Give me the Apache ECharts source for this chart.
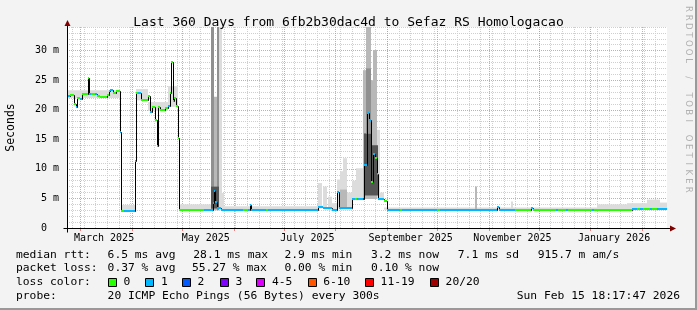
<!DOCTYPE html>
<html><head><meta charset="utf-8">
<script src="https://cdn.jsdelivr.net/npm/echarts@6/dist/echarts.min.js"></script>
<style>html,body{margin:0;padding:0;background:#f3f3f3}#c{width:697px;height:310px}</style>
</head><body><div id="c"></div>
<script>
// ---------------- DATA ----------------
// time axis: days since start of the 360-day window (Feb 20 2025 18:17:47)
const xLabels = ['March 2025', 'May 2025', 'July 2025', 'September 2025', 'November 2025', 'January 2026'];
const xLabelMonths = [2, 4, 6, 8, 10, 12];           // months since Jan 2025
const yTicks = [0, 5, 10, 15, 20, 25, 30];           // ms

// median rtt (ms), step function: value holds from medDay[i] to medDay[i+1]
const medDay = [0.0, 1.8, 4.2, 5.1, 6.0, 7.8, 9.0, 12.3, 13.2, 14.4, 16.8, 18.0, 19.8, 24.0, 24.9, 25.8, 27.6, 29.4, 31.5, 32.4,
  34.2, 40.5, 41.4, 42.6, 44.4, 48.3, 49.5, 50.7, 52.5, 53.7, 54.3, 55.8, 58.8, 60.3, 61.5, 62.4, 63.3, 64.2, 65.1, 66.3,
  67.2, 82.2, 87.6, 88.2, 88.8, 90.0, 92.4, 105.6, 108.6, 109.5, 110.4, 119.4, 120.6, 150.6, 153.6, 159.0, 161.7, 163.2,
  171.0, 172.5, 174.0, 177.3, 178.4, 179.7, 180.9, 182.1, 183.6, 184.8, 185.8, 186.8, 190.2, 191.7, 199.8, 201.0, 222.0,
  223.8, 258.0, 258.9, 268.8, 278.4, 279.6, 293.4, 294.6, 299.4, 300.6, 315.0, 316.2, 339.0, 342.0, 343.8, 345.6, 349.8,
  351.0, 354.0];
const medVal = [22.4, 22.5, 20.9, 20.5, 22.0, 21.8, 22.6, 25.4, 22.7, 22.6, 22.7, 22.4, 22.2, 22.5, 23.1, 23.3, 22.9, 23.1, 16.2, 2.9,
  2.9, 11.4, 22.9, 22.8, 21.6, 22.3, 19.6, 20.5, 18.2, 13.8, 20.4, 20.0, 20.3, 20.6, 22.8, 28.1, 21.4, 22.0, 20.6, 15.2,
  3.0, 3.0, 4.3, 6.2, 4.4, 3.3, 3.0, 3.0, 3.0, 3.9, 3.0, 3.0, 3.0, 3.6, 3.4, 3.0, 6.1, 3.4,
  4.9, 4.9, 4.9, 4.9, 10.7, 19.4, 18.3, 7.8, 12.5, 11.9, 9.2, 4.9, 4.5, 3.05, 3.05, 3.05, 3.05,
  3.05, 3.6, 3.1, 3.1, 3.3, 3.1, 3.1, 3.1, 3.1, 3.1, 3.1, 3.1, 3.15, 3.15, 3.2, 3.2, 3.2,
  3.2, 3.2];
// packet-loss class index (0:"0", 1:"1", ... 6:"11-19", 7:"20/20")
const medLoss = [1, 0, 0, 1, 0, 1, 0, 0, 1, 0, 1, 0, 0, 0, 0, 1, 0, 0, 1, 0,
  1, 1, 0, 1, 0, 0, 1, 0, 0, 0, 0, 0, 0, 1, 0, 0, 0, 0, 0, 0,
  0, 1, 1, 1, 1, 1, 1, 0, 1, 1, 1, 0, 1, 1, 1, 1, 1, 1,
  1, 0, 1, 6, 1, 1, 1, 0, 1, 0, 1, 1, 0, 1, 0, 1, 0,
  1, 1, 1, 0, 1, 0, 1, 0, 1, 0, 1, 0, 1, 0, 1, 0, 1,
  0, 1];

// smoke (ping spread): start day, end day, low ms, high ms, density 1..4
const smokeStart = [0, 32.4, 41.4, 48.3, 60.3, 67.2, 86.4, 88.4, 89.8, 91.2, 86.4, 92.8, 94.4, 150.6, 153.6, 156.6, 159, 162.0, 163.8, 165.6,
  163.8, 168.0, 171.0, 173.4, 177.6, 179.4, 182.4, 183.6, 186.0, 187.8, 178.2, 182.4, 190.2, 245.0, 266.6, 318, 336, 348, 356, 179.4];
const smokeEnd = [31.5, 40.5, 48.3, 60.3, 66.3, 86.4, 88.4, 89.8, 91.2, 92.8, 91.2, 94.4, 150.6, 153.0, 156.0, 159.0, 162, 163.8, 165.6, 168.0,
  168.0, 171.0, 173.4, 177.6, 179.4, 182.4, 183.6, 186.0, 187.8, 190.2, 182.4, 186.6, 360, 245.8, 267.4, 336, 348, 356, 360, 182.4];
const smokeLow = [22.0, 2.9, 21.6, 19.8, 20.5, 3.0, 3.0, 3.0, 3.0, 3.0, 3.3, 3.0, 3.0, 3.3, 3.3, 3.1, 3.0, 3.3, 3.3, 3.3,
  3.3, 3.3, 4.9, 4.9, 4.9, 4.9, 4.9, 4.9, 4.9, 4.8, 5.5, 5.5, 3.1, 3.1, 3.1, 3.1, 3.1, 3.1, 3.1, 16.0];
const smokeHigh = [23.3, 3.9, 23.5, 21.3, 24.0, 4.0, 34, 22.2, 34, 34, 7.0, 5.9, 3.7, 7.6, 7.0, 5.3, 4.2, 8.2, 9.6, 11.8,
  6.5, 6.0, 8.0, 10.1, 26.7, 34, 25.0, 30.1, 16.6, 6.0, 16.0, 14.0, 3.45, 7.0, 4.5, 4.0, 4.2, 4.8, 4.3, 27.0];
const smokeDensity = [1, 1, 1, 1, 1, 1, 3, 2, 3, 1, 4, 1, 1, 1, 1, 1, 1, 1, 1, 1,
  2, 1, 1, 1, 2, 2, 2, 2, 1, 1, 4, 4, 1, 2, 1, 1, 1, 1, 1, 3];

const lossLabels = ['0', '1', '2', '3', '4-5', '6-10', '11-19', '20/20'];
const statsRtt = ['median rtt:', '6.5 ms avg', '28.1 ms max', '2.9 ms min', '3.2 ms now', '7.1 ms sd', '915.7 m am/s'];
const statsLoss = ['packet loss:', '0.37 % avg', '55.27 % max', '0.00 % min', '0.10 % now'];
const probeText = ['probe:', '20 ICMP Echo Pings (56 Bytes) every 300s', 'Sun Feb 15 18:17:47 2026'];
const titleText = 'Last 360 Days from 6fb2b30dac4d to Sefaz RS Homologacao';
const watermark = 'RRDTOOL / TOBI OETIKER';

// ---------------- STYLE / BUILD ----------------
const LOSS_COLORS = ['#26ff00', '#00b8ff', '#0059ff', '#7e00ff', '#dd00ff', '#ff5500', '#ff0000', '#a10000'];
const SHADES = [null, '#dcdcdc', '#b8b8b8', '#909090', '#555555'];
const MONO = '"DejaVu Sans Mono", monospace';
const T0 = Date.UTC(2025, 1, 20, 18, 17, 47), DAY = 86400000, SPAN = 360;
const dayOf = (y, m, d) => (Date.UTC(y, m, d) - T0) / DAY;

const monthDays = [];
for (let m = 2; m <= 13; m++) monthDays.push(dayOf(2025, m, 1));
const weekDays = [];
for (let d = dayOf(2025, 1, 24); d < SPAN; d += 7) weekDays.push(d);
const labelDays = xLabelMonths.map(m => dayOf(2025, m, 15));
const minorY = [];
for (let v = 0; v <= 34; v++) if (v % 5 !== 0) minorY.push(v);

const smokeData = smokeStart.map((s, i) => [s, smokeEnd[i], smokeLow[i], smokeHigh[i], smokeDensity[i]]);
const medData = medDay.map((s, i) => [s, i + 1 < medDay.length ? medDay[i + 1] : SPAN, medVal[i], i > 0 ? medVal[i - 1] : medVal[i], medLoss[i]]);

const chart = echarts.init(document.getElementById('c'), null, {renderer: 'canvas'});

const majorColor = 'rgba(240,120,120,0.75)';
const minorColor = '#cfcfcf';

const option = {
  animation: false,
  backgroundColor: '#f3f3f3',
  title: {text: titleText, left: 'center', top: 11,
    textStyle: {fontFamily: MONO, fontSize: 13, fontWeight: 'normal', color: '#000'}},
  grid: {left: 67, right: 30, top: 27, bottom: 82, show: true, backgroundColor: '#ffffff', borderWidth: 0},
  xAxis: [
    {type: 'value', min: 0, max: SPAN, z: 1,
      axisLine: {show: false},
      axisTick: {show: true, length: 3, customValues: monthDays, lineStyle: {color: '#f08080'}},
      axisLabel: {customValues: labelDays, margin: 5, fontFamily: MONO, fontSize: 10, color: '#000',
        formatter: v => { let bi = 0; labelDays.forEach((d, i) => { if (Math.abs(d - v) < Math.abs(labelDays[bi] - v)) bi = i; }); return xLabels[bi]; }},
      splitLine: {show: true, lineStyle: {color: majorColor, type: [1, 1], width: 1}}},
    {type: 'value', min: 0, max: SPAN, position: 'top', z: 0,
      axisLine: {show: false}, axisTick: {show: false, customValues: weekDays}, axisLabel: {show: false},
      splitLine: {show: true, lineStyle: {color: minorColor, type: [1, 1], width: 1}}}
  ],
  yAxis: [
    {type: 'value', min: 0, max: 34, z: 1,
      axisLine: {show: false},
      axisTick: {show: false, customValues: yTicks},
      axisLabel: {customValues: yTicks, margin: 8, fontFamily: MONO, fontSize: 10, color: '#000',
        formatter: v => v === 0 ? '0  ' : v + ' m'},
      splitLine: {show: true, lineStyle: {color: majorColor, type: [1, 1], width: 1}}},
    {type: 'value', min: 0, max: 34, position: 'right', z: 0,
      axisLine: {show: false}, axisTick: {show: false, customValues: minorY}, axisLabel: {show: false},
      splitLine: {show: true, lineStyle: {color: minorColor, type: [1, 1], width: 1}}}
  ],
  series: [
    {type: 'custom', name: 'smoke', xAxisIndex: 0, yAxisIndex: 0, z: 2, clip: true,
      encode: {x: [0, 1], y: [2, 3]}, data: smokeData,
      renderItem: (params, api) => {
        const a = api.coord([api.value(0), api.value(3)]);
        const b = api.coord([api.value(1), api.value(2)]);
        const x0 = Math.round(a[0]), x1 = Math.max(Math.round(b[0]), x0 + 1);
        return {type: 'rect', shape: {x: x0, y: a[1], width: x1 - x0, height: b[1] - a[1]},
          style: {fill: SHADES[api.value(4)]}};
      }},
    {type: 'custom', name: 'median', xAxisIndex: 0, yAxisIndex: 0, z: 3, clip: true,
      encode: {x: [0, 1], y: [2, 3]}, data: medData,
      renderItem: (params, api) => {
        const s = api.value(0), e = api.value(1), v = api.value(2), pv = api.value(3);
        const p0 = api.coord([s, v]), p1 = api.coord([e, v]), pp = api.coord([s, pv]);
        const x0 = Math.round(p0[0]) + 0.5, x1 = Math.round(p1[0]) + 0.5;
        const y = Math.round(p0[1]) + 0.5, yp = Math.round(pp[1]) + 0.5;
        return {type: 'group', children: [
          {type: 'line', shape: {x1: x0, y1: yp, x2: x0, y2: y}, style: {stroke: '#000', lineWidth: 1}},
          {type: 'line', shape: {x1: x0, y1: y, x2: x1, y2: y}, style: {stroke: '#000', lineWidth: 1}}
        ]};
      }},
    {type: 'custom', name: 'loss', xAxisIndex: 0, yAxisIndex: 0, z: 4, clip: true,
      encode: {x: [0, 1], y: 2}, data: medData,
      renderItem: (params, api) => {
        const s = api.value(0), e = api.value(1), v = api.value(2);
        const p0 = api.coord([s, v]), p1 = api.coord([e, v]);
        const x0 = Math.round(p0[0]), x1 = Math.max(Math.round(p1[0]), x0 + 1);
        const y = Math.round(p0[1]);
        return {type: 'rect', shape: {x: x0, y: y - 1, width: x1 - x0, height: 2},
          style: {fill: LOSS_COLORS[api.value(4)]}};
      }}
  ]
};
chart.setOption(option);

// ---------- decorations: axes with arrows, legend, frame ----------
const o = chart.convertToPixel({gridIndex: 0}, [0, 0]);
const tr = chart.convertToPixel({gridIndex: 0}, [SPAN, 34]);
const ox = Math.round(o[0]) + 0.5, oy = Math.round(o[1]) + 0.5;
const rx = Math.round(tr[0]), ty = Math.round(tr[1]);
const AR = '#800000';
const g = [];
g.push({type: 'line', z: 10, shape: {x1: ox - 4, y1: oy, x2: rx + 4, y2: oy}, style: {stroke: '#000', lineWidth: 1}});
g.push({type: 'line', z: 10, shape: {x1: ox, y1: oy + 4, x2: ox, y2: ty - 2}, style: {stroke: '#000', lineWidth: 1}});
g.push({type: 'polygon', z: 10, shape: {points: [[rx + 3, oy - 3], [rx + 9, oy], [rx + 3, oy + 3]]}, style: {fill: AR}});
g.push({type: 'polygon', z: 10, shape: {points: [[ox - 3, ty - 1], [ox, ty - 7], [ox + 3, ty - 1]]}, style: {fill: AR}});

// "Seconds" vertical label
g.push({type: 'text', x: 11, y: (o[1] + tr[1]) / 2, rotation: Math.PI / 2,
  style: {text: 'Seconds', font: '11.5px ' + MONO, fill: '#000', align: 'center', verticalAlign: 'middle'}});
// watermark, spaced letters reading top to bottom
watermark.split('').forEach((ch, i) => {
  if (ch === ' ') return;
  g.push({type: 'text', x: 688, y: 9 + i * 8.6, rotation: -Math.PI / 2,
    style: {text: ch, font: '8.5px "DejaVu Sans", sans-serif', fill: '#b0b0b0', align: 'center', verticalAlign: 'middle'}});
});

const LF = '11.3px ' + MONO;
const txt = (t, x, y, align) => g.push({type: 'text', z: 10,
  style: {text: t, x: x, y: y, font: LF, fill: '#000', align: align || 'left', verticalAlign: 'middle'}});
const rttX = [16, 107.6, 193.3, 284.4, 371, 457.8, 537.8];
statsRtt.forEach((t, i) => txt(t, rttX[i], 255));
const lossX = [16, 107.6, 192, 284.4, 371];
statsLoss.forEach((t, i) => txt(t, lossX[i], 268.5));
txt('loss color:', 16, 282.5);
const boxX = [108, 145.3, 182, 220, 256.4, 307.6, 365, 430];
lossLabels.forEach((t, i) => {
  g.push({type: 'rect', z: 10, shape: {x: Math.round(boxX[i]) + 0.5, y: 278.5, width: 8, height: 8},
    style: {fill: LOSS_COLORS[i], stroke: '#000', lineWidth: 1}});
  txt(t, boxX[i] + 15.6, 282.5);
});
txt(probeText[0], 16, 296.5);
txt(probeText[1], 107.6, 296.5);
txt(probeText[2], 680, 296.5, 'right');

// frame (dark shade on bottom/right)
g.push({type: 'rect', shape: {x: 0, y: 308, width: 697, height: 2}, style: {fill: '#999999'}});
g.push({type: 'rect', shape: {x: 695, y: 0, width: 2, height: 310}, style: {fill: '#999999'}});

chart.setOption({graphic: g});
</script></body></html>
